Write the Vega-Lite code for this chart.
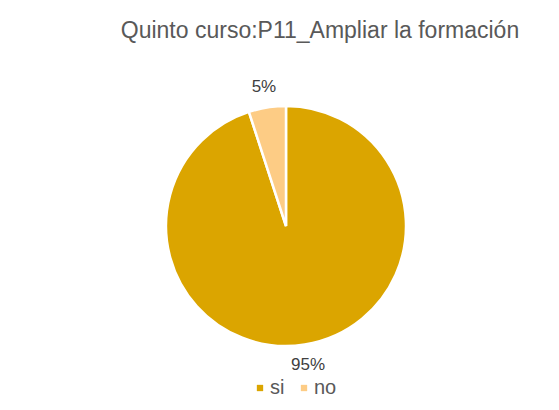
{
  "$schema": "https://vega.github.io/schema/vega-lite/v6.json",
  "width": 400,
  "height": 300,
  "autosize": {"type": "none"},
  "padding": {"left": 86, "top": 76, "right": 73, "bottom": 34},
  "background": "white",
  "title": {
    "text": "Quinto curso:P11_Ampliar la formación",
    "font": "Liberation Sans",
    "fontSize": 23,
    "fontWeight": "normal",
    "color": "#595959",
    "anchor": "middle",
    "dx": 34,
    "offset": 33
  },
  "data": {
    "values": [
      {"respuesta": "si", "porcentaje": 95, "etiqueta": "95%", "orden": 1},
      {"respuesta": "no", "porcentaje": 5, "etiqueta": "5%", "orden": 2}
    ]
  },
  "encoding": {
    "theta": {"field": "porcentaje", "type": "quantitative", "stack": true},
    "order": {"field": "orden", "type": "quantitative"}
  },
  "layer": [
    {
      "mark": {"type": "arc", "outerRadius": 120, "stroke": "white", "strokeWidth": 2.5},
      "encoding": {
        "color": {
          "field": "respuesta",
          "type": "nominal",
          "sort": ["si", "no"],
          "scale": {"domain": ["si", "no"], "range": ["#DBA500", "#FDCC85"]},
          "legend": {
            "orient": "none",
            "legendX": 164,
            "legendY": 302,
            "direction": "horizontal",
            "title": null,
            "symbolType": "square",
            "symbolSize": 40,
            "symbolStrokeWidth": 0,
            "labelFont": "Liberation Sans",
            "labelFontSize": 20,
            "labelColor": "#595959",
            "columnPadding": 9,
            "labelOffset": 0
          }
        }
      }
    },
    {
      "mark": {"type": "text", "radius": 141, "font": "Liberation Sans", "fontSize": 17, "color": "#404040", "baseline": "middle", "align": "center"},
      "encoding": {
        "text": {"field": "etiqueta", "type": "nominal"},
        "detail": {"field": "respuesta", "type": "nominal"}
      }
    }
  ],
  "config": {"view": {"stroke": null}}
}
